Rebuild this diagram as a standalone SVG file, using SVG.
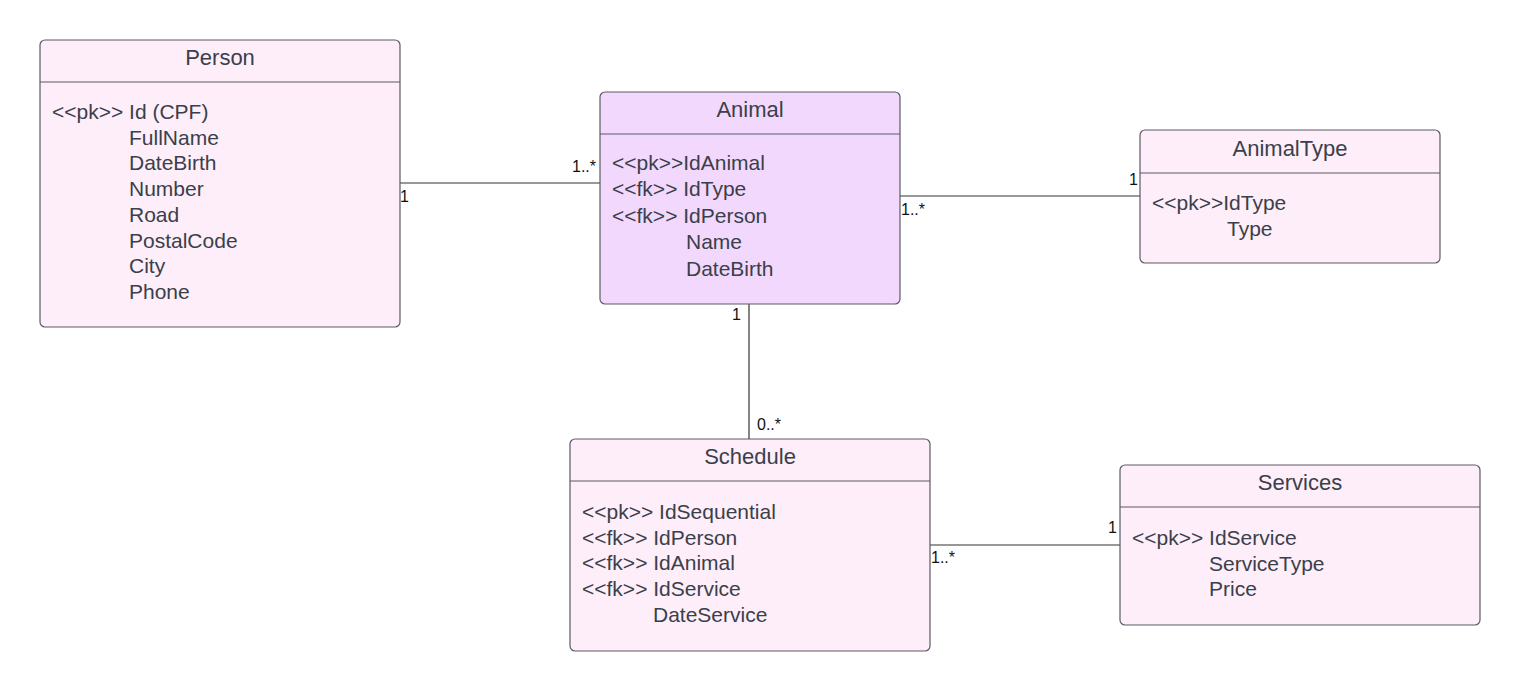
<svg xmlns="http://www.w3.org/2000/svg" width="1520" height="691" viewBox="0 0 1520 691">
<style>
.box{fill:#fdeef9;stroke:#5a5a66;stroke-width:1.2}
.hl{fill:#f2d8fc}
.sep{stroke:#5a5a66;stroke-width:1.2}
.t{font-family:"Liberation Sans",Arial,sans-serif;font-size:21px;fill:#3a3f4a}
.h{font-size:22px;text-anchor:middle}
.conn line{stroke:#333;stroke-width:1.2}
.lb{font-family:"Liberation Sans",Arial,sans-serif;font-size:16px;fill:#111}
</style>
<rect width="1520" height="691" fill="#ffffff"/>
<g id="conn" class="conn">
<line x1="400" y1="183" x2="600" y2="183"/>
<line x1="900" y1="196" x2="1140" y2="196"/>
<line x1="749" y1="304" x2="749" y2="439"/>
<line x1="930" y1="545" x2="1120" y2="545"/>
<text class="lb" x="400" y="202">1</text>
<text class="lb" x="572" y="172">1..*</text>
<text class="lb" x="901" y="215">1..*</text>
<text class="lb" x="1129" y="185">1</text>
<text class="lb" x="732" y="320">1</text>
<text class="lb" x="757" y="430">0..*</text>
<text class="lb" x="931" y="563">1..*</text>
<text class="lb" x="1108" y="533">1</text>
</g>
<g id="person">
<rect class="box" x="40" y="40" width="360" height="287" rx="5"/>
<line class="sep" x1="40" y1="82" x2="400" y2="82"/>
<text class="t h" x="220" y="65">Person</text>
<text class="t" x="52" y="119">&lt;&lt;pk&gt;&gt; Id (CPF)</text>
<text class="t" x="129" y="145">FullName</text>
<text class="t" x="129" y="170">DateBirth</text>
<text class="t" x="129" y="196">Number</text>
<text class="t" x="129" y="222">Road</text>
<text class="t" x="129" y="248">PostalCode</text>
<text class="t" x="129" y="273">City</text>
<text class="t" x="129" y="299">Phone</text>
</g>
<g id="animal">
<rect class="box hl" x="600" y="92" width="300" height="212" rx="5"/>
<line class="sep" x1="600" y1="134" x2="900" y2="134"/>
<text class="t h" x="750" y="117">Animal</text>
<text class="t" x="612" y="170">&lt;&lt;pk&gt;&gt;IdAnimal</text>
<text class="t" x="612" y="196">&lt;&lt;fk&gt;&gt; IdType</text>
<text class="t" x="612" y="223">&lt;&lt;fk&gt;&gt; IdPerson</text>
<text class="t" x="686" y="249">Name</text>
<text class="t" x="686" y="276">DateBirth</text>
</g>
<g id="animaltype">
<rect class="box" x="1140" y="130" width="300" height="133" rx="5"/>
<line class="sep" x1="1140" y1="173" x2="1440" y2="173"/>
<text class="t h" x="1290" y="156">AnimalType</text>
<text class="t" x="1152" y="210">&lt;&lt;pk&gt;&gt;IdType</text>
<text class="t" x="1227" y="236">Type</text>
</g>
<g id="schedule">
<rect class="box" x="570" y="439" width="360" height="212" rx="5"/>
<line class="sep" x1="570" y1="481" x2="930" y2="481"/>
<text class="t h" x="750" y="464">Schedule</text>
<text class="t" x="582" y="519">&lt;&lt;pk&gt;&gt; IdSequential</text>
<text class="t" x="582" y="545">&lt;&lt;fk&gt;&gt; IdPerson</text>
<text class="t" x="582" y="570">&lt;&lt;fk&gt;&gt; IdAnimal</text>
<text class="t" x="582" y="596">&lt;&lt;fk&gt;&gt; IdService</text>
<text class="t" x="653" y="622">DateService</text>
</g>
<g id="services">
<rect class="box" x="1120" y="465" width="360" height="160" rx="5"/>
<line class="sep" x1="1120" y1="507" x2="1480" y2="507"/>
<text class="t h" x="1300" y="490">Services</text>
<text class="t" x="1132" y="545">&lt;&lt;pk&gt;&gt; IdService</text>
<text class="t" x="1209" y="571">ServiceType</text>
<text class="t" x="1209" y="596">Price</text>
</g>
</svg>
